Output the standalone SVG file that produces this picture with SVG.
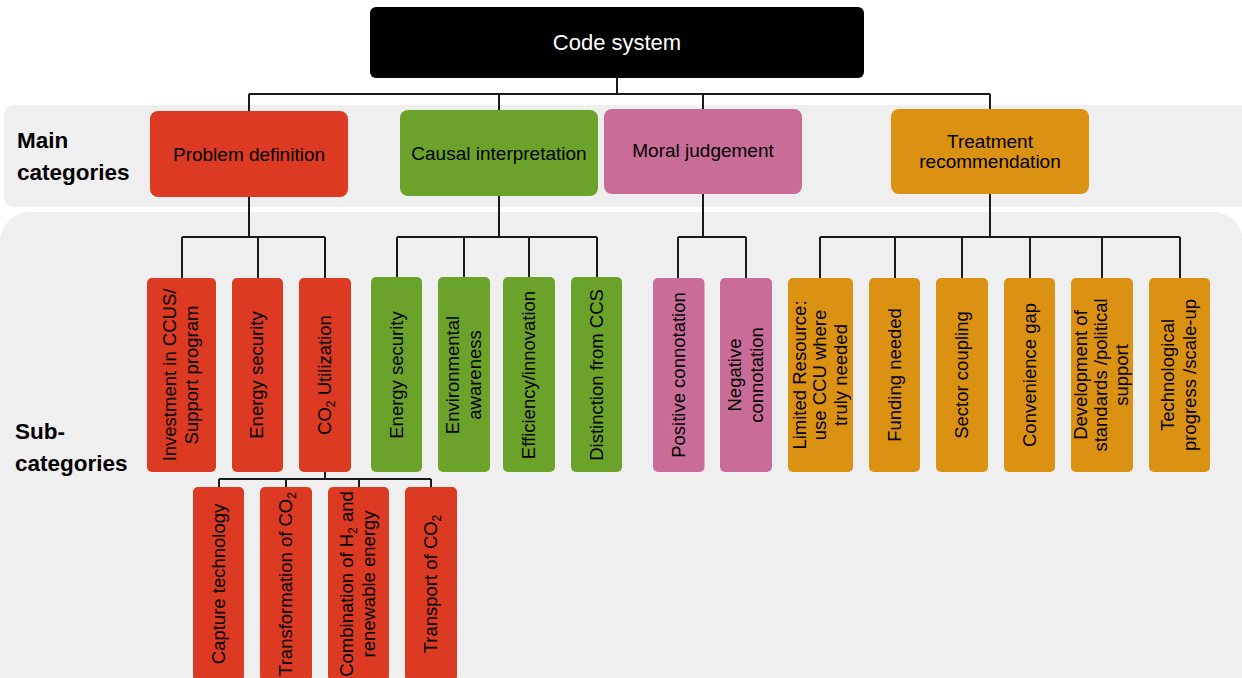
<svg xmlns="http://www.w3.org/2000/svg" width="1242" height="678" viewBox="0 0 1242 678">
<style>
.panel{fill:#efefef}
.red{fill:#dc3a22}
.green{fill:#6ba229}
.pink{fill:#c96c97}
.orange{fill:#db9112}
text{font-family:"Liberation Sans",Arial,Helvetica,sans-serif;fill:#000}
.main{font-size:19px;text-anchor:middle}
.sub{font-size:18.5px;text-anchor:middle}
.lbl{font-size:22.5px;font-weight:bold}
.conn{stroke:#1a1a1a;stroke-width:2;fill:none}
</style>
<rect width="1242" height="678" fill="#ffffff"/>
<g id="panels">
<rect class="panel" x="4" y="105" width="1260" height="102" rx="10"/>
<rect class="panel" x="0" y="212" width="1243" height="520" rx="30"/>
</g>
<g id="row-labels">
<text class="lbl" x="17" y="148">Main</text>
<text class="lbl" x="17" y="180">categories</text>
<text class="lbl" x="15" y="439">Sub-</text>
<text class="lbl" x="15" y="471">categories</text>
</g>
<g id="connectors" class="conn">
<path d="M617 78V94M249 94H990M249 94V111M499 94V110M703 94V109M990 94V109"/>
<path d="M249 197V237M182 237H325M182 237V278M258 237V278M325 237V278"/>
<path d="M499 196V237M397 237H597M397 237V277M464 237V277M529 237V277M597 237V277"/>
<path d="M703 194V237M678 237H746M678 237V278M746 237V278"/>
<path d="M990 194V237M820 237H1180M820 237V278M895 237V278M962 237V278M1030 237V278M1102 237V278M1180 237V278"/>
<path d="M325 472V479M219 479H431M219 479V487M286 479V487M359 479V487M431 479V487"/>
</g>
<g id="code-system">
<rect x="370" y="7" width="494" height="71" rx="6" fill="#000"/>
<text x="617" y="50" style="font-size:22px;text-anchor:middle;fill:#fff">Code system</text>
</g>
<g id="problem-definition">
<rect class="red" x="150" y="111" width="198" height="86" rx="8"/>
<text class="main" x="249" y="161">Problem definition</text>
</g>
<g id="causal-interpretation">
<rect class="green" x="400" y="110" width="198" height="86" rx="8"/>
<text class="main" x="499" y="160">Causal interpretation</text>
</g>
<g id="moral-judgement">
<rect class="pink" x="604" y="109" width="198" height="85" rx="8"/>
<text class="main" x="703" y="157">Moral judgement</text>
</g>
<g id="treatment-recommendation">
<rect class="orange" x="891" y="109" width="198" height="85" rx="8"/>
<text class="main" x="990" y="148">Treatment</text>
<text class="main" x="990" y="168">recommendation</text>
</g>
<g id="pd-investment">
<rect class="red" x="147" y="278" width="69" height="194" rx="5"/>
<text class="sub" transform="translate(176 375) rotate(-90)"><tspan x="0" y="0">Investment in CCUS/</tspan><tspan x="0" y="22">Support program</tspan></text>
</g>
<g id="pd-energy-security">
<rect class="red" x="232" y="278" width="51" height="194" rx="5"/>
<text class="sub" transform="translate(263 375) rotate(-90)">Energy security</text>
</g>
<g id="pd-co2-utilization">
<rect class="red" x="299" y="278" width="52" height="194" rx="5"/>
<text class="sub" transform="translate(331 375) rotate(-90)">CO<tspan font-size="12" dy="4">2</tspan><tspan dy="-4"> Utilization</tspan></text>
</g>
<g id="ci-energy-security">
<rect class="green" x="371" y="277" width="51" height="195" rx="5"/>
<text class="sub" transform="translate(402.5 375) rotate(-90)">Energy security</text>
</g>
<g id="ci-environmental">
<rect class="green" x="438" y="277" width="52" height="195" rx="5"/>
<text class="sub" transform="translate(459 375) rotate(-90)"><tspan x="0" y="0">Environmental</tspan><tspan x="0" y="22">awareness</tspan></text>
</g>
<g id="ci-efficiency">
<rect class="green" x="503" y="277" width="52" height="195" rx="5"/>
<text class="sub" transform="translate(535 375) rotate(-90)">Efficiency/innovation</text>
</g>
<g id="ci-distinction">
<rect class="green" x="571" y="277" width="51" height="195" rx="5"/>
<text class="sub" transform="translate(602.5 375) rotate(-90)">Distinction from CCS</text>
</g>
<g id="mj-positive">
<rect class="pink" x="653" y="278" width="51.5" height="194" rx="5"/>
<text class="sub" transform="translate(685 375) rotate(-90)">Positive connotation</text>
</g>
<g id="mj-negative">
<rect class="pink" x="720" y="278" width="52" height="194" rx="5"/>
<text class="sub" transform="translate(741 375) rotate(-90)"><tspan x="0" y="0">Negative</tspan><tspan x="0" y="22">connotation</tspan></text>
</g>
<g id="tr-limited-resource">
<rect class="orange" x="788" y="278" width="65" height="194" rx="5"/>
<text class="sub" transform="translate(805.5 375) rotate(-90)"><tspan x="0" y="0">Limited Resource:</tspan><tspan x="0" y="20.5">use CCU where</tspan><tspan x="0" y="41">truly needed</tspan></text>
</g>
<g id="tr-funding">
<rect class="orange" x="869" y="278" width="51" height="194" rx="5"/>
<text class="sub" transform="translate(900.5 375) rotate(-90)">Funding needed</text>
</g>
<g id="tr-sector-coupling">
<rect class="orange" x="936" y="278" width="52" height="194" rx="5"/>
<text class="sub" transform="translate(968 375) rotate(-90)">Sector coupling</text>
</g>
<g id="tr-convenience-gap">
<rect class="orange" x="1004" y="278" width="51" height="194" rx="5"/>
<text class="sub" transform="translate(1035.5 375) rotate(-90)">Convenience gap</text>
</g>
<g id="tr-standards">
<rect class="orange" x="1071" y="278" width="62" height="194" rx="5"/>
<text class="sub" transform="translate(1086.5 375) rotate(-90)"><tspan x="0" y="0">Development of</tspan><tspan x="0" y="20.5">standards /political</tspan><tspan x="0" y="41">support</tspan></text>
</g>
<g id="tr-technological">
<rect class="orange" x="1149" y="278" width="61" height="194" rx="5"/>
<text class="sub" transform="translate(1174 375) rotate(-90)"><tspan x="0" y="0">Technological</tspan><tspan x="0" y="22">progress /scale-up</tspan></text>
</g>
<g id="co2-capture">
<rect class="red" x="193" y="487" width="51" height="194" rx="5"/>
<text class="sub" transform="translate(224.5 584) rotate(-90)">Capture technology</text>
</g>
<g id="co2-transformation">
<rect class="red" x="260" y="487" width="52" height="194" rx="5"/>
<text class="sub" transform="translate(292 584) rotate(-90)">Transformation of CO<tspan font-size="12" dy="4">2</tspan></text>
</g>
<g id="co2-combination">
<rect class="red" x="328" y="487" width="61" height="194" rx="5"/>
<text class="sub" transform="translate(353 584) rotate(-90)"><tspan x="0" y="0">Combination of H</tspan><tspan font-size="12" dy="4">2</tspan><tspan dy="-4"> and</tspan><tspan x="0" y="22">renewable energy</tspan></text>
</g>
<g id="co2-transport">
<rect class="red" x="405" y="487" width="52" height="194" rx="5"/>
<text class="sub" transform="translate(437 584) rotate(-90)">Transport of CO<tspan font-size="12" dy="4">2</tspan></text>
</g>
</svg>
